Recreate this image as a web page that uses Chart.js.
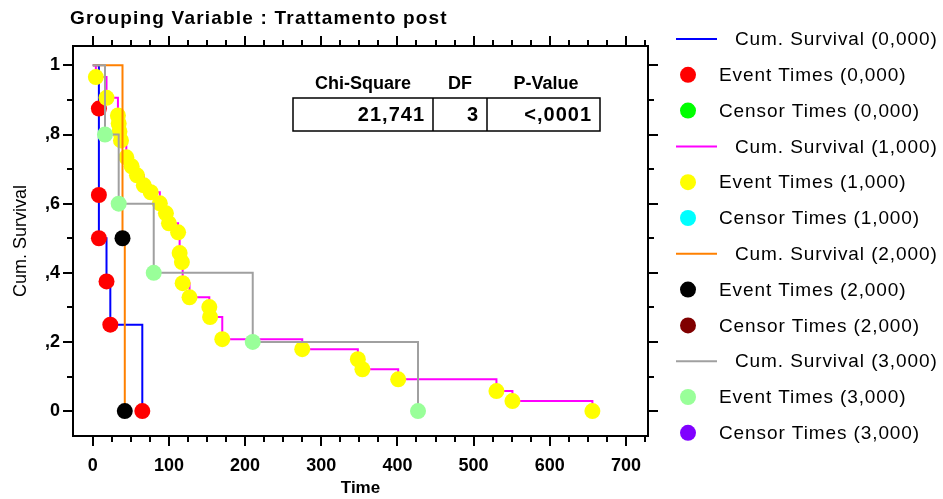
<!DOCTYPE html>
<html>
<head>
<meta charset="utf-8">
<script src="https://cdn.jsdelivr.net/npm/chart.js@4.4.0/dist/chart.umd.min.js"></script>
<style>
  html, body { margin: 0; padding: 0; background: #fff; }
  #wrap { width: 943px; height: 499px; }
</style>
</head>
<body>
<div id="wrap"><canvas id="kmChart"></canvas></div>
<script>
const titleText = 'Grouping Variable : Trattamento post';
const groupNames = ['0,000', '1,000', '2,000', '3,000'];

// event times and cumulative survival after each event, per group
const times0 = [8, 8, 8, 18, 23, 65];
const surv0 = [0.875, 0.625, 0.5, 0.375, 0.25, 0];
const times1 = [4, 18, 33, 34, 35, 37, 44, 51, 58, 67, 76, 88, 96, 100, 112, 114, 117, 118, 127, 153, 154, 170, 275, 348, 354, 401, 530, 551, 656];
const surv1 = [0.966, 0.906, 0.855, 0.832, 0.809, 0.783, 0.734, 0.708, 0.682, 0.653, 0.633, 0.601, 0.572, 0.543, 0.517, 0.457, 0.431, 0.370, 0.329, 0.301, 0.272, 0.208, 0.179, 0.150, 0.121, 0.092, 0.058, 0.029, 0];
const times2 = [39, 42];
const surv2 = [0.5, 0];
const times3 = [16, 34, 80, 210, 427];
const surv3 = [0.8, 0.6, 0.4, 0.2, 0];

const xTickValues = [0, 100, 200, 300, 400, 500, 600, 700];
const yTickValues = [0, 0.2, 0.4, 0.6, 0.8, 1];
const yTickLabels = ['0', ',2', ',4', ',6', ',8', '1'];

const statHeaders = ['Chi-Square', 'DF', 'P-Value'];
const statValues = ['21,741', '3', '<,0001'];

const lineColors = ['#0000ff', '#ff00ff', '#ff8000', '#a0a0a0'];
const eventColors = ['#ff0000', '#ffff00', '#000000', '#99ff99'];
const censorColors = ['#00ff00', '#00ffff', '#800000', '#8000ff'];

const allTimes = [times0, times1, times2, times3];
const allSurv = [surv0, surv1, surv2, surv3];

function pts(t, s) {
  return t.map((v, i) => ({ x: v, y: s[i] }));
}

const datasets = [];
groupNames.forEach((g, i) => {
  datasets.push({
    type: 'line', label: 'Cum. Survival (' + g + ')', kind: 'line',
    data: [{ x: 0, y: 1 }].concat(pts(allTimes[i], allSurv[i])),
    stepped: 'before', borderColor: lineColors[i], borderWidth: 2,
    pointRadius: 0, fill: false
  });
  datasets.push({
    type: 'scatter', label: 'Event Times (' + g + ')', kind: 'point',
    data: pts(allTimes[i], allSurv[i]),
    backgroundColor: eventColors[i], borderWidth: 0, pointRadius: 8
  });
  datasets.push({
    type: 'scatter', label: 'Censor Times (' + g + ')', kind: 'point',
    data: [], backgroundColor: censorColors[i], borderWidth: 0, pointRadius: 8
  });
});
// later groups drawn on top
datasets.forEach((d, i) => { d.order = -i; });

const FONT = '"Liberation Sans", Arial, sans-serif';

const decorPlugin = {
  id: 'decor',
  afterDraw(chart) {
    const ctx = chart.ctx;
    const a = chart.chartArea;
    const xs = chart.scales.x, ys = chart.scales.y;
    ctx.save();

    // frame
    ctx.strokeStyle = '#000';
    ctx.lineWidth = 2;
    ctx.strokeRect(a.left, a.top, a.right - a.left, a.bottom - a.top);

    // tick marks, outward on all sides
    ctx.beginPath();
    for (let v = 0; v <= 725; v += 25) {
      const px = Math.round(xs.getPixelForValue(v));
      if (px <= a.left || px >= a.right) continue;
      const len = v % 100 === 0 ? 10 : 6;
      ctx.moveTo(px, a.bottom); ctx.lineTo(px, a.bottom + len);
      ctx.moveTo(px, a.top); ctx.lineTo(px, a.top - len);
    }
    for (let k = 0; k <= 10; k++) {
      const py = Math.round(ys.getPixelForValue(k / 10));
      const len = k % 2 === 0 ? 10 : 6;
      ctx.moveTo(a.left, py); ctx.lineTo(a.left - len, py);
      ctx.moveTo(a.right, py); ctx.lineTo(a.right + len, py);
    }
    ctx.stroke();

    // title
    ctx.fillStyle = '#000';
    ctx.font = 'bold 19px ' + FONT;
    ctx.letterSpacing = '1.2px';
    ctx.textAlign = 'left';
    ctx.textBaseline = 'middle';
    ctx.fillText(titleText, 70, 19);

    // statistics table
    ctx.font = 'bold 18px ' + FONT;
    ctx.letterSpacing = '0px';
    const colEdges = [293, 433, 487, 600];
    const headX = [363, 460, 546];
    ctx.textAlign = 'center';
    statHeaders.forEach((h, i) => ctx.fillText(h, headX[i], 84));
    ctx.lineWidth = 1.5;
    ctx.strokeRect(colEdges[0], 98, colEdges[3] - colEdges[0], 33);
    ctx.beginPath();
    ctx.moveTo(colEdges[1], 98); ctx.lineTo(colEdges[1], 131);
    ctx.moveTo(colEdges[2], 98); ctx.lineTo(colEdges[2], 131);
    ctx.stroke();
    ctx.font = 'bold 20px ' + FONT;
    ctx.letterSpacing = '1px';
    ctx.textAlign = 'right';
    statValues.forEach((v, i) => ctx.fillText(v, colEdges[i + 1] - 8, 115));

    // legend
    ctx.font = '19px ' + FONT;
    ctx.letterSpacing = '0.9px';
    ctx.textAlign = 'left';
    chart.data.datasets.forEach((d, i) => {
      const y = 39 + i * 35.8;
      if (d.kind === 'line') {
        ctx.strokeStyle = d.borderColor;
        ctx.lineWidth = 2;
        ctx.beginPath();
        ctx.moveTo(676, y); ctx.lineTo(717, y);
        ctx.stroke();
        ctx.fillStyle = '#000';
        ctx.fillText(d.label, 735, y + 1);
      } else {
        ctx.fillStyle = d.backgroundColor;
        ctx.beginPath();
        ctx.arc(688, y, 8, 0, Math.PI * 2);
        ctx.fill();
        ctx.fillStyle = '#000';
        ctx.fillText(d.label, 719, y + 1);
      }
    });
    ctx.restore();
  }
};

const ctx = document.getElementById('kmChart');

const myChart = new Chart(ctx, {
  type: 'scatter',
  data: { datasets: datasets },
  options: {
    responsive: true,
    maintainAspectRatio: false,
    animation: false,
    events: [],
    layout: { padding: { left: 0, right: 295, top: 46, bottom: 0 } },
    plugins: { legend: { display: false }, tooltip: { enabled: false } },
    scales: {
      x: {
        type: 'linear', min: -26, max: 729,
        grid: { display: false, drawTicks: false }, border: { display: false },
        afterBuildTicks: s => { s.ticks = xTickValues.map(v => ({ value: v })); },
        afterFit: s => { s.height = 63; },
        ticks: { padding: 19, color: '#000', font: { family: FONT, size: 18, weight: 'bold' }, maxRotation: 0, autoSkip: false },
        title: { display: true, text: 'Time', color: '#000', padding: { top: 0, bottom: 0 }, font: { family: FONT, size: 17, weight: 'bold' } }
      },
      y: {
        type: 'linear', min: -0.072, max: 1.056,
        grid: { display: false, drawTicks: false }, border: { display: false },
        afterBuildTicks: s => { s.ticks = yTickValues.map(v => ({ value: v })); },
        afterFit: s => { s.width = 73; },
        ticks: {
          padding: 13, color: '#000', font: { family: FONT, size: 18, weight: 'bold' }, autoSkip: false,
          callback: (v) => yTickLabels[yTickValues.indexOf(v)]
        },
        title: { display: true, text: 'Cum. Survival', color: '#000', padding: { top: 10, bottom: 0 }, font: { family: FONT, size: 18 } }
      }
    }
  },
  plugins: [decorPlugin]
});
</script>
</body>
</html>
